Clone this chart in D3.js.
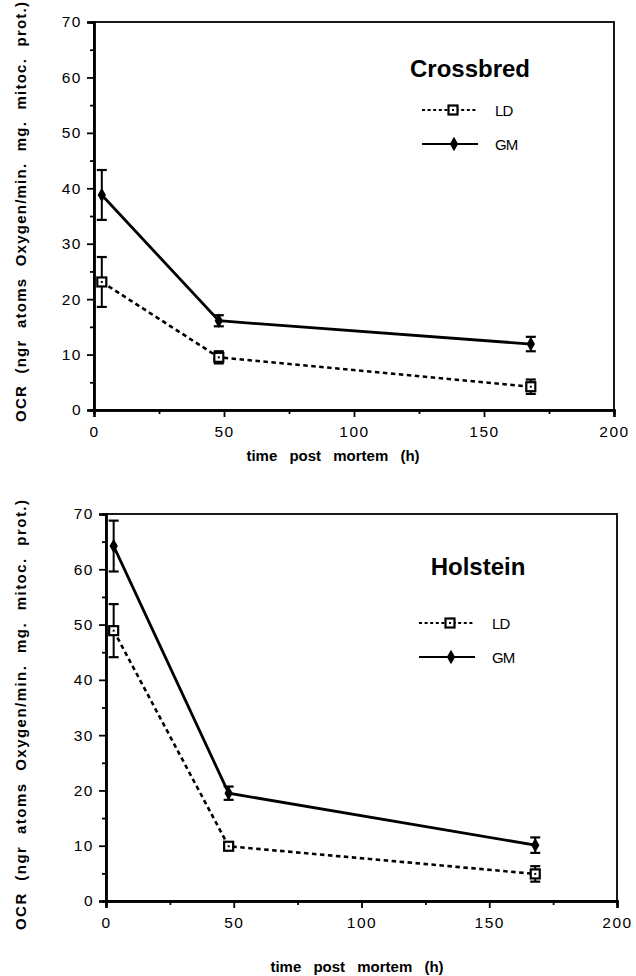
<!DOCTYPE html>
<html>
<head>
<meta charset="utf-8">
<script src="https://cdn.jsdelivr.net/npm/d3@7"></script>
<style>
  body { margin: 0; background: #fff; }
  svg { display: block; font-family: "Liberation Sans", Arial, sans-serif; }
</style>
</head>
<body>
<div id="chart"></div>
<script>
const width = 636;
const height = 976;

// time post mortem (h)
const hours = [3, 48, 168];

// Crossbred
const crossLD = [23.1, 9.5, 4.2];
const crossLDErr = [4.5, 1.1, 1.3];
const crossGM = [38.8, 16.1, 11.9];
const crossGMErr = [4.5, 1.0, 1.3];

// Holstein
const holLD = [48.9, 9.9, 4.9];
const holLDErr = [4.8, 0.6, 1.4];
const holGM = [64.2, 19.5, 10.1];
const holGMErr = [4.6, 1.2, 1.4];

const xTicks = [0, 50, 100, 150, 200];
const xMinor = [25, 75, 125, 175];
const yTicks = [0, 10, 20, 30, 40, 50, 60, 70];
const yMinor = [5, 15, 25, 35, 45, 55, 65];
const seriesNames = ['LD', 'GM'];
const yLabel = 'OCR (ngr atoms Oxygen/min. mg. mitoc. prot.)';
const xLabel = 'time post mortem (h)';

const svg = d3.select('#chart')
  .append('svg')
  .attr('width', width)
  .attr('height', height)

const panels = [
  { title: 'Crossbred', ld: crossLD, ldErr: crossLDErr, gm: crossGM, gmErr: crossGMErr,
    left: 94, right: 614, top: 22, bottom: 410, titleX: 470, titleY: 77,
    legX: 422, legY: 110, xlabX: 333, xlabY: 461, ylabX: 26, ylabTop: 2, ylabBottom: 422 },
  { title: 'Holstein', ld: holLD, ldErr: holLDErr, gm: holGM, gmErr: holGMErr,
    left: 106, right: 617, top: 514, bottom: 901, titleX: 478, titleY: 575,
    legX: 419, legY: 623, xlabX: 357, xlabY: 972, ylabX: 26, ylabTop: 500, ylabBottom: 930 }
];

const drawSquare = (g, x, y) => {
  g.append('rect')
    .attr('x', x - 4.5).attr('y', y - 4.5)
    .attr('width', 9).attr('height', 9)
    .attr('fill', '#fff').attr('stroke', '#000').attr('stroke-width', 2.2)
  g.append('rect')
    .attr('x', x - 1).attr('y', y - 1)
    .attr('width', 2).attr('height', 2)
    .attr('fill', '#000')
}

const drawDiamond = (g, x, y) => {
  g.append('path')
    .attr('d', d3.symbol().type(d3.symbolDiamond).size(60)())
    .attr('transform', `translate(${x},${y})`)
    .attr('fill', '#000')
}

panels.forEach((p) => {
  const x = d3.scaleLinear().domain([0, 200]).range([p.left, p.right]);
  const y = d3.scaleLinear().domain([0, 70]).range([p.bottom, p.top]);
  const g = svg.append('g');

  // frame
  g.append('rect')
    .attr('x', p.left).attr('y', p.top)
    .attr('width', p.right - p.left).attr('height', p.bottom - p.top)
    .attr('fill', 'none').attr('stroke', '#000').attr('stroke-width', 1.8)

  // axes
  g.append('g')
    .attr('transform', `translate(0,${p.bottom})`)
    .call(d3.axisBottom(x).tickValues(xTicks).tickSize(7).tickPadding(9).tickFormat(d3.format('d')))
  g.append('g')
    .attr('transform', `translate(0,${p.bottom})`)
    .call(d3.axisBottom(x).tickValues(xMinor).tickSize(4).tickFormat(''))
  g.append('g')
    .attr('transform', `translate(${p.left},0)`)
    .call(d3.axisLeft(y).tickValues(yTicks).tickSize(7).tickPadding(5).tickFormat(d3.format('d')))
  g.append('g')
    .attr('transform', `translate(${p.left},0)`)
    .call(d3.axisLeft(y).tickValues(yMinor).tickSize(4).tickFormat(''))

  g.selectAll('.domain').attr('stroke', '#000').attr('stroke-width', 2.4)
  g.selectAll('.tick line').attr('stroke', '#000').attr('stroke-width', 1.8)
  g.selectAll('.tick text')
    .attr('fill', '#000')
    .style('font-size', '15.5px')
    .style('letter-spacing', '1.5px')

  // axis titles
  g.append('text')
    .attr('x', p.xlabX).attr('y', p.xlabY)
    .attr('text-anchor', 'middle')
    .style('font-size', '15px').style('font-weight', 'bold')
    .style('word-spacing', '8px')
    .text(xLabel)

  const ylen = p.ylabBottom - p.ylabTop;
  g.append('text')
    .attr('transform', `translate(${p.ylabX},${p.ylabBottom}) rotate(-90)`)
    .attr('x', 0).attr('y', 0)
    .attr('textLength', ylen).attr('lengthAdjust', 'spacing')
    .style('font-size', '15px').style('font-weight', 'bold')
    .style('word-spacing', '6px')
    .text(yLabel)

  // panel title
  g.append('text')
    .attr('x', p.titleX).attr('y', p.titleY)
    .attr('text-anchor', 'middle')
    .style('font-size', '24px').style('font-weight', 'bold')
    .text(p.title)

  const line = d3.line().x((d) => x(d[0])).y((d) => y(d[1]));
  const series = [
    { name: 'LD', vals: p.ld, err: p.ldErr, dash: '4.5,3.5' },
    { name: 'GM', vals: p.gm, err: p.gmErr, dash: null }
  ];

  series.forEach((s) => {
    const pts = hours.map((h, i) => [h, s.vals[i]]);
    g.append('path')
      .datum(pts)
      .attr('d', line)
      .attr('fill', 'none')
      .attr('stroke', '#000')
      .attr('stroke-width', s.dash ? 2.6 : 2.8)
      .attr('stroke-dasharray', s.dash)

    // error bars
    const eb = g.append('g');
    hours.forEach((h, i) => {
      const cx = x(h);
      const y1 = y(s.vals[i] + s.err[i]);
      const y2 = y(s.vals[i] - s.err[i]);
      eb.append('line').attr('x1', cx).attr('x2', cx).attr('y1', y1).attr('y2', y2)
        .attr('stroke', '#000').attr('stroke-width', 2)
      ;[y1, y2].forEach((yy) => {
        eb.append('line').attr('x1', cx - 5).attr('x2', cx + 5).attr('y1', yy).attr('y2', yy)
          .attr('stroke', '#000').attr('stroke-width', 2.2)
      })
    })

    pts.forEach((d) => {
      if (s.name === 'LD') drawSquare(g, x(d[0]), y(d[1]));
      else drawDiamond(g, x(d[0]), y(d[1]));
    })
  })

  // legend
  const leg = g.append('g');
  series.forEach((s, i) => {
    const ly = p.legY + i * 34;
    leg.append('line')
      .attr('x1', p.legX).attr('x2', p.legX + 56)
      .attr('y1', ly).attr('y2', ly)
      .attr('stroke', '#000')
      .attr('stroke-width', s.dash ? 1.8 : 2.2)
      .attr('stroke-dasharray', s.dash ? '3,2.6' : null)
    if (s.name === 'LD') drawSquare(leg, p.legX + 31, ly);
    else drawDiamond(leg, p.legX + 32, ly);
    leg.append('text')
      .attr('x', p.legX + 73).attr('y', ly + 6)
      .style('font-size', '15px')
      .style('letter-spacing', '-0.8px')
      .text(seriesNames[i])
  })
})
</script>
</body>
</html>
